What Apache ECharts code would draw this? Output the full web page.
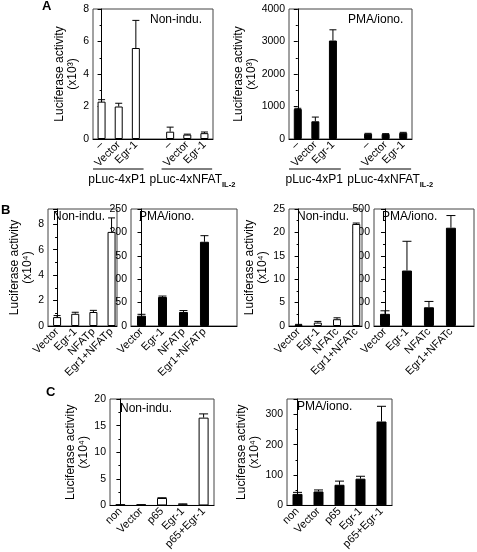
<!DOCTYPE html>
<html><head><meta charset="utf-8">
<script src="https://cdn.jsdelivr.net/npm/echarts@6/dist/echarts.min.js"></script>
<style>html,body{margin:0;padding:0;background:#fff}#c{width:477px;height:552px}</style>
</head><body><div id="c"></div>
<script>
// ---------- DATA ----------
const catA = ['–', 'Vector', 'Egr-1', '', '–', 'Vector', 'Egr-1'];
const groupA = ['pLuc-4xP1', 'pLuc-4xNFAT'];
const groupASub = ['', 'IL-2'];
const a1Val = [2.3, 2.0, 5.6, null, 0.45, 0.27, 0.36];
const a1Err = [0.12, 0.2, 1.7, null, 0.28, 0.03, 0.07];
const a2Val = [925, 545, 3030, null, 165, 155, 190];
const a2Err = [20, 130, 330, null, 10, 10, 15];

const catBp = ['Vector', 'Egr-1', 'NFATp', 'Egr1+NFATp'];
const b1Val = [0.7, 0.96, 1.1, 7.4];
const b1Err = [0.12, 0.12, 0.13, 1.1];
const b2Val = [22, 62, 30, 180];
const b2Err = [3, 2, 3, 13];

const catBc = ['Vector', 'Egr-1', 'NFATc', 'Egr1+NFATc'];
const b3Val = [0.3, 0.73, 1.45, 21.8];
const b3Err = [0.05, 0.25, 0.3, 0.2];
const b4Val = [52, 237, 80, 420];
const b4Err = [13, 125, 25, 52];

const catC = ['non', 'Vector', 'p65', 'Egr-1', 'p65+Egr-1'];
const c1Val = [0.1, 0.1, 1.4, 0.2, 16.5];
const c1Err = [0.05, 0.05, 0.05, 0.1, 0.7];
const c2Val = [38, 46, 68, 88, 276];
const c2Err = [5, 5, 12, 8, 50];

const panelTitles = ['Non-indu.', 'PMA/iono.'];
const yNames = ['Luciferase activity\n(x10³)', 'Luciferase activity\n(x10⁴)'];
const panelLetters = ['A', 'B', 'C'];

// ---------- LAYOUT ----------
const FONT = 'Liberation Sans, Arial, sans-serif';
const panels = [
  {cats: catA, val: a1Val, err: a1Err, fill: '#fff', title: 0, name: 0,
   left: 93, top: 9, width: 120, height: 130, xMin: -0.5, xMax: 6.5, yMax: 8, yInt: 2, barW: 8, gap: 13, tx: 150, ty: 21},
  {cats: catA, val: a2Val, err: a2Err, fill: '#000', title: 1, name: 0,
   left: 289, top: 9, width: 123, height: 130, xMin: -0.5, xMax: 6.5, yMax: 4000, yInt: 1000, barW: 8, gap: 30, tx: 348, ty: 21},
  {cats: catBp, val: b1Val, err: b1Err, fill: '#fff', title: 0, name: 1,
   left: 48, top: 209, width: 69, height: 117, xMin: -0.5, xMax: 3.3, yMax: 9.2, yInt: 2, barW: 8, gap: 9, tx: 53, ty: 218},
  {cats: catBp, val: b2Val, err: b2Err, fill: '#000', title: 1, name: -1,
   left: 131, top: 209, width: 106, height: 117, xMin: -0.5, xMax: 4.55, yMax: 250, yInt: 50, barW: 9, gap: 9, tx: 139, ty: 218},
  {cats: catBc, val: b3Val, err: b3Err, fill: '#fff', title: 0, name: 1,
   left: 289, top: 209, width: 73, height: 117, xMin: -0.5, xMax: 3.3, yMax: 25, yInt: 5, barW: 8, gap: 11, tx: 297, ty: 218},
  {cats: catBc, val: b4Val, err: b4Err, fill: '#000', title: 1, name: -1,
   left: 374, top: 209, width: 100, height: 117, xMin: -0.5, xMax: 4.05, yMax: 500, yInt: 100, barW: 10, gap: 9, tx: 382, ty: 218},
  {cats: catC, val: c1Val, err: c1Err, fill: '#fff', title: 0, name: 1,
   left: 110, top: 399, width: 104, height: 110, xMin: -0.5, xMax: 4.5, yMax: 20, yInt: 5, barW: 10, gap: 20, tx: 120, ty: 410},
  {cats: catC, val: c2Val, err: c2Err, fill: '#000', title: 1, name: 1,
   left: 287, top: 399, width: 105, height: 110, xMin: -0.5, xMax: 4.5, yMax: 350, yInt: 100, barW: 10, gap: 23, tx: 297, ty: 408}
];

const chart = echarts.init(document.getElementById('c'), null, {renderer: 'canvas'});

const grids = [], xAxes = [], yAxes = [], series = [], graphics = [];
panels.forEach((p, gi) => {
  grids.push({left: p.left, top: p.top, width: p.width, height: p.height,
    show: true, borderColor: '#444', borderWidth: 1, backgroundColor: 'transparent'});
  xAxes.push({type: 'value', gridIndex: gi, min: p.xMin, max: p.xMax, interval: 0.5,
    axisLine: {show: true, onZero: false, lineStyle: {color: '#000', width: 1}},
    axisTick: {show: false}, splitLine: {show: false},
    axisLabel: {rotate: 45, margin: 4, fontSize: 11, color: '#000', fontFamily: FONT,
      showMinLabel: true, showMaxLabel: true,
      formatter: v => { const r = Math.round(v); return (Math.abs(v - r) < 1e-6 && p.cats[r] !== undefined) ? p.cats[r] : ''; }}
  });
  yAxes.push({type: 'value', gridIndex: gi, min: 0, max: p.yMax, interval: p.yInt,
    name: p.name >= 0 ? yNames[p.name] : '', nameLocation: 'middle', nameRotate: 90, nameGap: p.gap,
    nameTextStyle: {fontSize: 12, lineHeight: 13, color: '#000', fontFamily: FONT},
    axisLine: {show: true, lineStyle: {color: '#000', width: 1}},
    axisTick: {show: true, length: 4, lineStyle: {color: '#000'}},
    minorTick: {show: true, splitNumber: 2, length: 2, lineStyle: {color: '#000'}},
    splitLine: {show: false},
    axisLabel: {fontSize: 10.5, color: '#000', margin: 4, fontFamily: FONT,
      formatter: v => (Math.abs(v / p.yInt - Math.round(v / p.yInt)) < 1e-6 ? String(v) : '')}
  });
  const barData = [], errData = [];
  p.val.forEach((v, i) => { if (v != null) { barData.push([i, v]); errData.push([i, v, v + p.err[i]]); } });
  series.push({type: 'bar', xAxisIndex: gi, yAxisIndex: gi, data: barData, barWidth: p.barW,
    itemStyle: {color: p.fill, borderColor: '#000', borderWidth: 1}, silent: true, animation: false});
  const capW = p.barW - 1;
  series.push({type: 'custom', xAxisIndex: gi, yAxisIndex: gi, data: errData, z: 5, animation: false, silent: true,
    renderItem: (params, api) => {
      const x = api.value(0), y0 = api.value(1), y1 = api.value(2);
      const a = api.coord([x, y0]), b = api.coord([x, y1]);
      return {type: 'group', children: [
        {type: 'line', shape: {x1: a[0], y1: a[1], x2: b[0], y2: b[1]}, style: {stroke: '#000', lineWidth: 1}},
        {type: 'line', shape: {x1: b[0] - capW / 2, y1: b[1], x2: b[0] + capW / 2, y2: b[1]}, style: {stroke: '#000', lineWidth: 1}}
      ]};
    }
  });
  graphics.push({type: 'text', left: p.tx, top: p.ty - 7, style: {text: panelTitles[p.title], font: '12px ' + FONT, fill: '#000'}});
});

graphics.push({type: 'text', left: 42, top: 0, style: {text: panelLetters[0], font: 'bold 13px ' + FONT, fill: '#000'}});
graphics.push({type: 'text', left: 1, top: 204, style: {text: panelLetters[1], font: 'bold 13px ' + FONT, fill: '#000'}});
graphics.push({type: 'text', left: 46, top: 386, style: {text: panelLetters[2], font: 'bold 13px ' + FONT, fill: '#000'}});

chart.setOption({animation: false, grid: grids, xAxis: xAxes, yAxis: yAxes, series: series, graphic: graphics});

// group underlines and group labels under panel A, positioned through the axes
const groupRanges = [[0, 2], [4, 6]];
const extra = [];
[0, 1].forEach(gi => {
  groupRanges.forEach((r, k) => {
    const p0 = chart.convertToPixel({gridIndex: gi}, [r[0] - 0.5, 0]);
    const p1 = chart.convertToPixel({gridIndex: gi}, [r[1] + 0.45, 0]);
    const yLine = p0[1] + 30;
    extra.push({type: 'line', shape: {x1: p0[0], y1: yLine, x2: p1[0], y2: yLine}, style: {stroke: '#000', lineWidth: 1}});
    const tx = k === 0 ? p1[0] + 2 : p0[0] - 12;
    extra.push({type: 'text', x: tx, y: yLine + 5,
      style: {text: '{m|' + groupA[k] + '}' + (groupASub[k] ? '{s|' + groupASub[k] + '}' : ''),
        align: k === 0 ? 'right' : 'left', verticalAlign: 'top',
        rich: {m: {fontSize: 12, fontFamily: FONT, lineHeight: 15, verticalAlign: 'top', fill: '#000'},
               s: {fontSize: 7.5, fontFamily: FONT, fontWeight: 'bold', lineHeight: 8, verticalAlign: 'bottom', fill: '#000'}}}});
  });
});
chart.setOption({graphic: graphics.concat(extra)});
</script></body></html>
